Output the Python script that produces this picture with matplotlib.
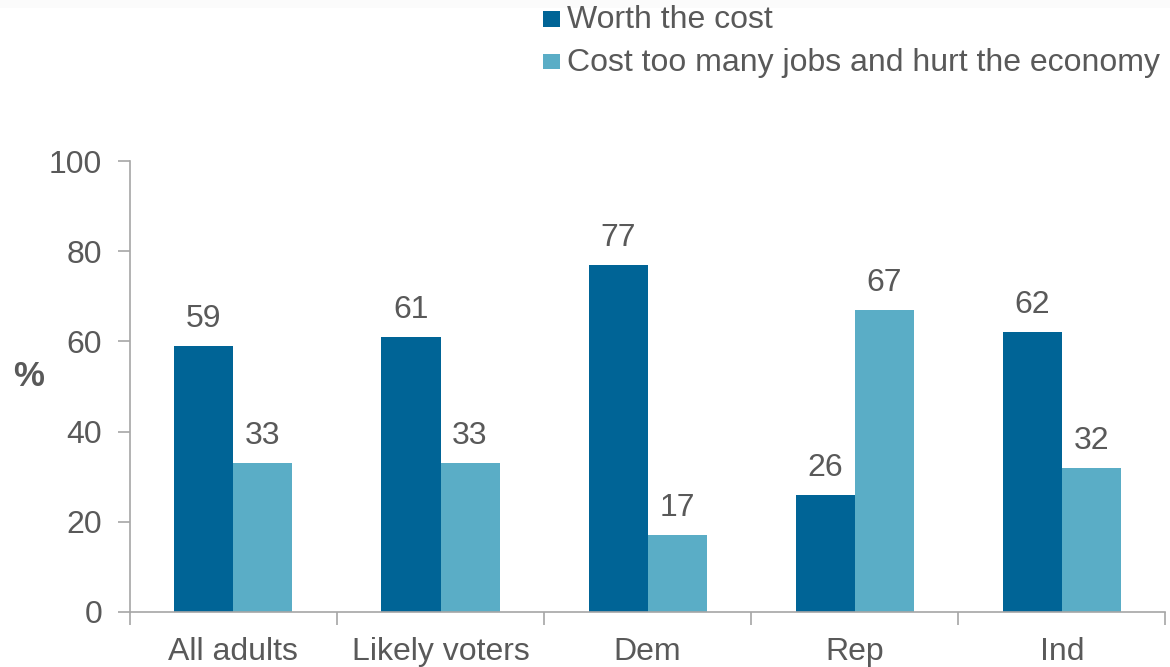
import matplotlib
matplotlib.use("Agg")
import matplotlib.pyplot as plt
from matplotlib.patches import Rectangle
import numpy as np

categories = ["All adults", "Likely voters", "Dem", "Rep", "Ind"]
worth = [59, 61, 77, 26, 62]
cost = [33, 33, 17, 67, 32]
series_labels = ["Worth the cost", "Cost too many jobs and hurt the economy"]
yticks = [0, 20, 40, 60, 80, 100]

plt.rcParams['font.family'] = ['Liberation Sans', 'DejaVu Sans']
TXT = '#595959'
DARK = '#006496'
LIGHT = '#5AADC6'
FS = 23
W, H = 1170, 667

fig = plt.figure(figsize=(11.7, 6.67), dpi=100)
fig.patches.append(Rectangle((0, 1 - 8/H), 1, 8/H, transform=fig.transFigure,
                             facecolor='#fbfbfb', edgecolor='none', zorder=-1))
ax = fig.add_axes([0.111, 0.0825, 0.885, 0.676])
x = np.arange(len(categories))
w = 0.285
b1 = ax.bar(x - w/2, worth, w, color=DARK, label=series_labels[0])
b2 = ax.bar(x + w/2, cost, w, color=LIGHT, label=series_labels[1])
for bars, vals in ((b1, worth), (b2, cost)):
    for r, v in zip(bars, vals):
        ax.text(r.get_x() + r.get_width()/2, v + 4.2, str(v), ha='center', va='baseline',
                fontsize=FS, color=TXT)

ax.set_xlim(-0.5, len(categories) - 0.5)
ax.set_ylim(0, 100)
ax.set_yticks(yticks)
ax.set_xticks(x)
ax.set_xticklabels(categories)
ax.set_xticks(np.arange(-0.5, len(categories)), minor=True)
ax.tick_params(axis='x', which='major', length=0, labelsize=FS, labelcolor=TXT, pad=18)
ax.tick_params(axis='x', which='minor', length=9, color='#a6a6a6', width=1.2, direction='out')
ax.tick_params(axis='y', length=9, color='#a6a6a6', width=1.2, labelsize=FS, labelcolor=TXT, pad=11)
for s in ('top', 'right'):
    ax.spines[s].set_visible(False)
for s in ('left', 'bottom'):
    ax.spines[s].set_color('#a6a6a6')
    ax.spines[s].set_linewidth(1.2)

fig.text(0.024, 1 - 376/H, '%', fontsize=25, fontweight='bold', color=TXT, ha='center', va='center')

# legend drawn manually
for i, (lab, col) in enumerate(zip(series_labels, [DARK, LIGHT])):
    top = 11 + i * 42.5
    fig.patches.append(Rectangle((543/W, 1 - (top + 15.5)/H), 17/W, 15.5/H,
                                 transform=fig.transFigure, facecolor=col, edgecolor='none'))
    fig.text(567/W, 1 - (28 + i * 43)/H, lab, fontsize=23, color=TXT,
             ha='left', va='baseline')

fig.savefig('out.png', dpi=100)
